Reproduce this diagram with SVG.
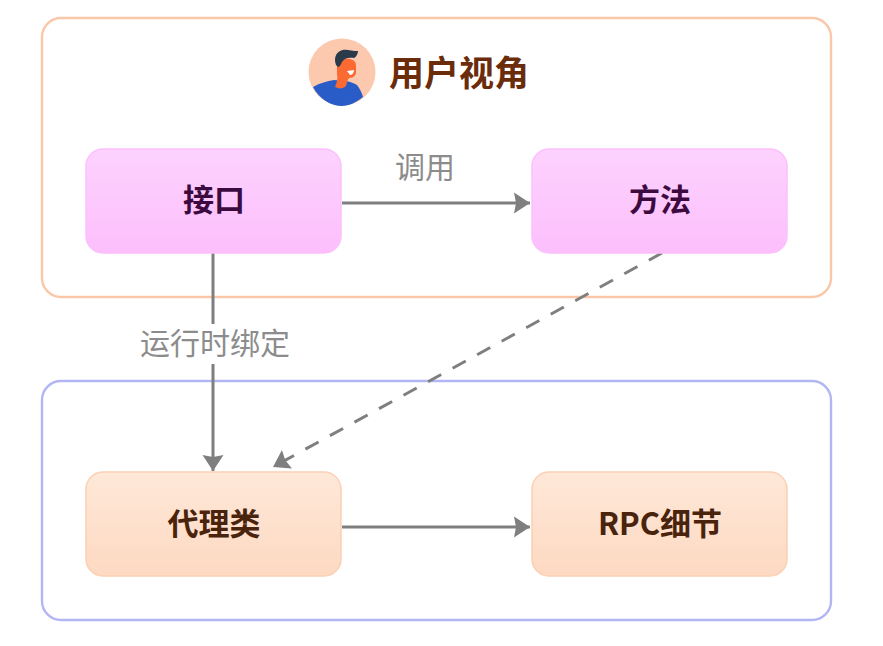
<svg xmlns="http://www.w3.org/2000/svg" width="883" height="646" viewBox="0 0 883 646">
<style>
.group{fill:#fff;stroke-width:2.4}
.node{stroke-width:1.5}
.t{font-family:"Noto Sans CJK SC","Noto Sans",sans-serif;text-anchor:middle}
.nt{font-size:31px;font-weight:700}
.title{font-size:35px;font-weight:700;fill:#6b2c0b}
.lbl{font-size:30px;fill:#8c8c8c;font-weight:400}
.c{fill:none;stroke:#7f7f7f;stroke-width:3}
</style>
<defs>
<linearGradient id="pink" x1="0" y1="0" x2="0" y2="1"><stop offset="0" stop-color="#fdd2fe"/><stop offset="1" stop-color="#fcbffc"/></linearGradient>
<linearGradient id="peach" x1="0" y1="0" x2="0" y2="1"><stop offset="0" stop-color="#fee8d8"/><stop offset="1" stop-color="#fdd9c2"/></linearGradient>
<marker id="arr" markerUnits="userSpaceOnUse" markerWidth="18" markerHeight="23" refX="16" refY="11" orient="auto"><path d="M0 0.500L16 11L0 21.500L2 11Z" fill="#7f7f7f"/></marker>
</defs>
<rect width="883" height="646" fill="#fff"/>
<g id="user-view">
<rect class="group" x="42" y="18" width="789" height="279" rx="19" stroke="#fac7a8"/>
<circle cx="342" cy="72" r="33.500" fill="#fdc9ae"/>
<path d="M313 87C320 83 327 81 334 80L346 81C351 82 354 83 357 85C360 89 362 93 363 97C357 102 349 106 342 106C331 106 319 99 313 87Z" fill="#2a5cc8"/>
<path d="M337 66C339 60 345 58 350 59C354 60 356 62 356 66L356 73C355 77 352 78 349 78C347 80 347 83 346 86C343 89 339 89 335 87C337 82 338 78 337 74Z" fill="#fa6a32"/>
<path d="M336 65C334 59 335 54 340 51C345 48 351 51 358 51C358 54 356 57 354 58C349 57 344 58 342 62C341 65 339 67 338 67Z" fill="#2b3a4a"/>
<path d="M347 71L354 70C354 73 352 75 350 75Z" fill="#fff"/>
<text class="t title" x="459" y="86">用户视角</text>
</g>
<g id="proxy-area">
<rect class="group" x="42" y="381" width="789" height="239" rx="19" stroke="#b3b6f5"/>
</g>
<g id="connectors">
<path class="c" d="M342 203H530" marker-end="url(#arr)"/>
<path class="c" d="M213 253V324M213 364V471" marker-end="url(#arr)"/>
<path class="c" d="M662 253L273 467" stroke-dasharray="15 13" marker-end="url(#arr)"/>
<path class="c" d="M342 527H530" marker-end="url(#arr)"/>
<text class="t lbl" x="425" y="178">调用</text>
<text class="t lbl" x="215" y="354">运行时绑定</text>
</g>
<g id="node-interface">
<rect class="node" x="86" y="149" width="255" height="104" rx="17" fill="url(#pink)" stroke="#fcc0fc"/>
<text class="t nt" x="214" y="211" fill="#3c0a3f">接口</text>
</g>
<g id="node-method">
<rect class="node" x="532" y="149" width="255" height="104" rx="17" fill="url(#pink)" stroke="#fcc0fc"/>
<text class="t nt" x="660" y="211" fill="#3c0a3f">方法</text>
</g>
<g id="node-proxy">
<rect class="node" x="86" y="472" width="255" height="104" rx="17" fill="url(#peach)" stroke="#fcd0b4"/>
<text class="t nt" x="214" y="535" fill="#4a230c">代理类</text>
</g>
<g id="node-rpc">
<rect class="node" x="532" y="472" width="255" height="104" rx="17" fill="url(#peach)" stroke="#fcd0b4"/>
<text class="t nt" x="660" y="535" fill="#4a230c">RPC细节</text>
</g>
</svg>
